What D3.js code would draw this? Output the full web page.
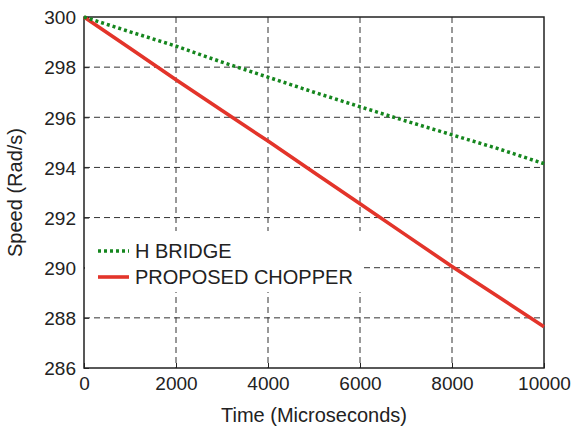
<!DOCTYPE html>
<html>
<head>
<meta charset="utf-8">
<script src="https://cdn.jsdelivr.net/npm/d3@7"></script>
<style>
  body { margin: 0; background: #fff; }
  text { font-family: "Liberation Sans", Arial, sans-serif; fill: #222; }
</style>
</head>
<body>
<div id="chart"></div>
<script>
// data
var time = [0, 1000, 2000, 3000, 4000, 5000, 6000, 7000, 8000, 9000, 10000];
var hBridge = [300, 299.41, 298.84, 298.2, 297.6, 297.0, 296.42, 295.85, 295.3, 294.75, 294.15];
var chopper = [300, 298.75, 297.5, 296.27, 295.05, 293.8, 292.55, 291.3, 290.05, 288.85, 287.65];
var xTicks = [0, 2000, 4000, 6000, 8000, 10000];
var yTicks = [286, 288, 290, 292, 294, 296, 298, 300];
var seriesNames = ["H BRIDGE", "PROPOSED CHOPPER"];

var svgWidth = 574;
var svgHeight = 426;
var margin = { top: 17, right: 30, bottom: 58, left: 84 };
var width = 544 - margin.left;
var height = 368 - margin.top;

var svg = d3.select("#chart")
    .append("svg")
    .attr("width", svgWidth)
    .attr("height", svgHeight);

var g = svg.append("g")
    .attr("transform", `translate(${margin.left}, ${margin.top})`);

var x = d3.scaleLinear().domain([0, 10000]).range([0, width]);
var y = d3.scaleLinear().domain([286, 300]).range([height, 0]);

// grid
g.append("g")
    .selectAll("line")
    .data(xTicks.slice(1, -1))
    .enter()
    .append("line")
    .attr("x1", d => x(d)).attr("x2", d => x(d))
    .attr("y1", 0).attr("y2", height)
    .attr("stroke", "#333").attr("stroke-width", 1)
    .attr("stroke-dasharray", "6,4");

g.append("g")
    .selectAll("line")
    .data(yTicks.slice(1, -1))
    .enter()
    .append("line")
    .attr("x1", 0).attr("x2", width)
    .attr("y1", d => y(d)).attr("y2", d => y(d))
    .attr("stroke", "#333").attr("stroke-width", 1)
    .attr("stroke-dasharray", "6,4");

// axes
var bottomAxis = d3.axisBottom(x).tickValues(xTicks).tickFormat(d3.format("d"))
    .tickSize(-5).tickPadding(9);
var leftAxis = d3.axisLeft(y).tickValues(yTicks).tickFormat(d3.format("d"))
    .tickSize(-5).tickPadding(8);

var axisX = g.append("g")
    .attr("transform", `translate(0, ${height})`)
    .call(bottomAxis);
var axisY = g.append("g").call(leftAxis);

[axisX, axisY].forEach(a => {
    a.select(".domain").remove();
    a.selectAll("text").style("font-size", "19px").attr("fill", "#222");
    a.selectAll(".tick line").attr("stroke", "#222");
});
axisY.selectAll("text").attr("dy", "0.36em");

// frame
g.append("rect")
    .attr("width", width).attr("height", height)
    .attr("fill", "none").attr("stroke", "#222").attr("stroke-width", 1.5);

// lines
var lineOf = vals => d3.line()
    .x((d, i) => x(time[i]))
    .y(d => y(d))(vals);

g.append("path")
    .attr("d", lineOf(chopper))
    .attr("fill", "none")
    .attr("stroke", "#e3342a")
    .attr("stroke-width", 3.6);

g.append("path")
    .attr("d", lineOf(hBridge))
    .attr("fill", "none")
    .attr("stroke", "#15861e")
    .attr("stroke-width", 3.5)
    .attr("stroke-dasharray", "3,3");

// legend
var legend = g.append("g").attr("transform", "translate(1, 214)");
legend.append("rect")
    .attr("width", 277).attr("height", 61)
    .attr("fill", "#fff");

var legendStyles = [
    { color: "#15861e", dash: "3,3", w: 3.5 },
    { color: "#e3342a", dash: null, w: 3.6 }
];
seriesNames.forEach((name, i) => {
    var ly = 20 + i * 26;
    legend.append("line")
        .attr("x1", 13).attr("x2", 44)
        .attr("y1", ly).attr("y2", ly)
        .attr("stroke", legendStyles[i].color)
        .attr("stroke-width", legendStyles[i].w)
        .attr("stroke-dasharray", legendStyles[i].dash);
    legend.append("text")
        .attr("x", 50).attr("y", ly)
        .attr("dy", "0.36em")
        .style("font-size", "20px")
        .text(name);
});

// axis titles
svg.append("text")
    .attr("x", margin.left + width / 2)
    .attr("y", 422)
    .attr("text-anchor", "middle")
    .style("font-size", "20px")
    .text("Time (Microseconds)");

svg.append("text")
    .attr("transform", `translate(22, ${margin.top + height / 2}) rotate(-90)`)
    .attr("text-anchor", "middle")
    .style("font-size", "20px")
    .text("Speed (Rad/s)");
</script>
</body>
</html>
